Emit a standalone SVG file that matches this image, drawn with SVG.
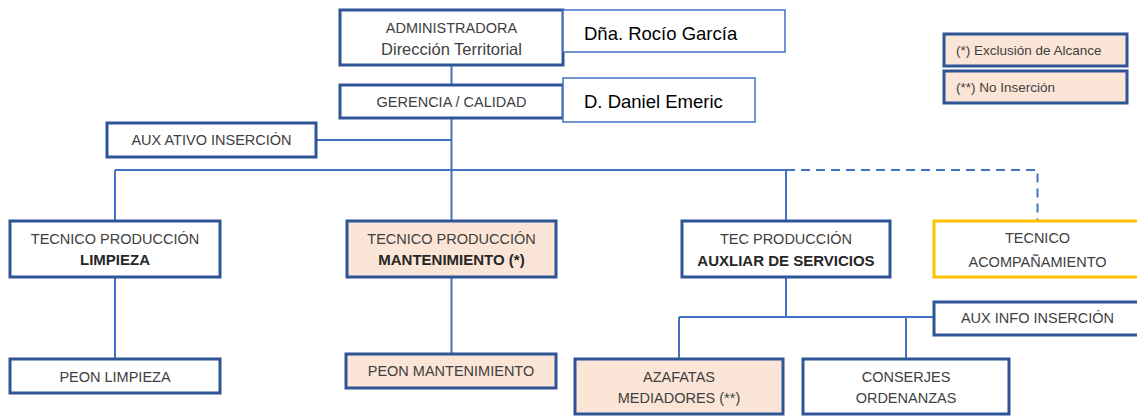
<svg xmlns="http://www.w3.org/2000/svg" width="1137" height="417" viewBox="0 0 1137 417">
<style>
.box{fill:#ffffff;stroke:#2F5597;stroke-width:3}
.peach{fill:#FBE5D6}
.note{fill:#ffffff;stroke:#4472C4;stroke-width:1.5}
.orange{fill:#ffffff;stroke:#FFC000;stroke-width:3}
.t{font-family:"Liberation Sans",Arial,sans-serif;font-size:14.5px;fill:#404040;text-anchor:middle}
.b{font-weight:bold;fill:#262626;font-size:15px}
.lc{font-size:16.5px}
.n{font-family:"Liberation Sans",Arial,sans-serif;font-size:18.5px;fill:#000000}
.lg{font-family:"Liberation Sans",Arial,sans-serif;font-size:13.5px;fill:#404040}
.c{fill:none;stroke:#4472C4;stroke-width:2}
.d{stroke-dasharray:9 6}
</style>
<rect width="1137" height="417" fill="#ffffff"/>
<g id="connectors">
<path class="c" d="M451.5 64 V85 M451.5 118 V221 M316 140 H451.5"/>
<path class="c" d="M115 170 H786 M115 170 V221 M786 170 V221"/>
<path class="c d" d="M786 170 H1037.5 V221"/>
<path class="c" d="M115 277 V359 M451.5 277 V354"/>
<path class="c" d="M786 277 V317 M679 317 H934 M679 317 V359 M906 317 V359"/>
</g>
<g id="admin">
<rect class="box" x="340" y="10" width="223" height="55"/>
<text class="t" x="451.5" y="33">ADMINISTRADORA</text>
<text class="t lc" x="451.5" y="55">Dirección Territorial</text>
</g>
<g id="rocio">
<rect class="note" x="563" y="10" width="222" height="42"/>
<text class="n" x="584" y="40">Dña. Rocío García</text>
</g>
<g id="gerencia">
<rect class="box" x="340" y="85" width="223" height="33"/>
<text class="t" x="451.5" y="107">GERENCIA / CALIDAD</text>
</g>
<g id="daniel">
<rect class="note" x="563" y="78" width="192" height="44"/>
<text class="n" x="584" y="108">D. Daniel Emeric</text>
</g>
<g id="legend1">
<rect class="box peach" x="944" y="34" width="183" height="32"/>
<text class="lg" x="956" y="55">(*) Exclusión de Alcance</text>
</g>
<g id="legend2">
<rect class="box peach" x="944" y="71" width="183" height="32"/>
<text class="lg" x="956" y="92">(**) No Inserción</text>
</g>
<g id="aux-ativo">
<rect class="box" x="107" y="123" width="209" height="34"/>
<text class="t" x="211.5" y="145">AUX ATIVO INSERCIÓN</text>
</g>
<g id="tec-limpieza">
<rect class="box" x="10" y="221" width="210" height="56"/>
<text class="t" x="115" y="244">TECNICO PRODUCCIÓN</text>
<text class="t b" x="115" y="265">LIMPIEZA</text>
</g>
<g id="tec-mantenimiento">
<rect class="box peach" x="347" y="221" width="209" height="56"/>
<text class="t" x="451.5" y="244">TECNICO PRODUCCIÓN</text>
<text class="t b" x="451.5" y="265">MANTENIMIENTO (*)</text>
</g>
<g id="tec-auxiliar">
<rect class="box" x="682" y="221" width="208" height="56"/>
<text class="t" x="786" y="244">TEC PRODUCCIÓN</text>
<text class="t b" x="786" y="266">AUXLIAR DE SERVICIOS</text>
</g>
<g id="tec-acompanamiento">
<rect class="orange" x="934" y="221" width="207" height="56"/>
<text class="t" x="1037.5" y="243">TECNICO</text>
<text class="t" x="1037.5" y="267">ACOMPAÑAMIENTO</text>
</g>
<g id="aux-info">
<rect class="box" x="934" y="302" width="207" height="33"/>
<text class="t" x="1037.5" y="323">AUX INFO INSERCIÓN</text>
</g>
<g id="peon-limpieza">
<rect class="box" x="10" y="359" width="210" height="34"/>
<text class="t" x="115" y="382">PEON LIMPIEZA</text>
</g>
<g id="peon-mantenimiento">
<rect class="box peach" x="346" y="354" width="210" height="34"/>
<text class="t" x="451" y="376">PEON MANTENIMIENTO</text>
</g>
<g id="azafatas">
<rect class="box peach" x="575" y="359" width="208" height="55"/>
<text class="t" x="679" y="382">AZAFATAS</text>
<text class="t" x="679" y="403">MEDIADORES (**)</text>
</g>
<g id="conserjes">
<rect class="box" x="803" y="359" width="206" height="55"/>
<text class="t" x="906" y="382">CONSERJES</text>
<text class="t" x="906" y="403">ORDENANZAS</text>
</g>
</svg>
